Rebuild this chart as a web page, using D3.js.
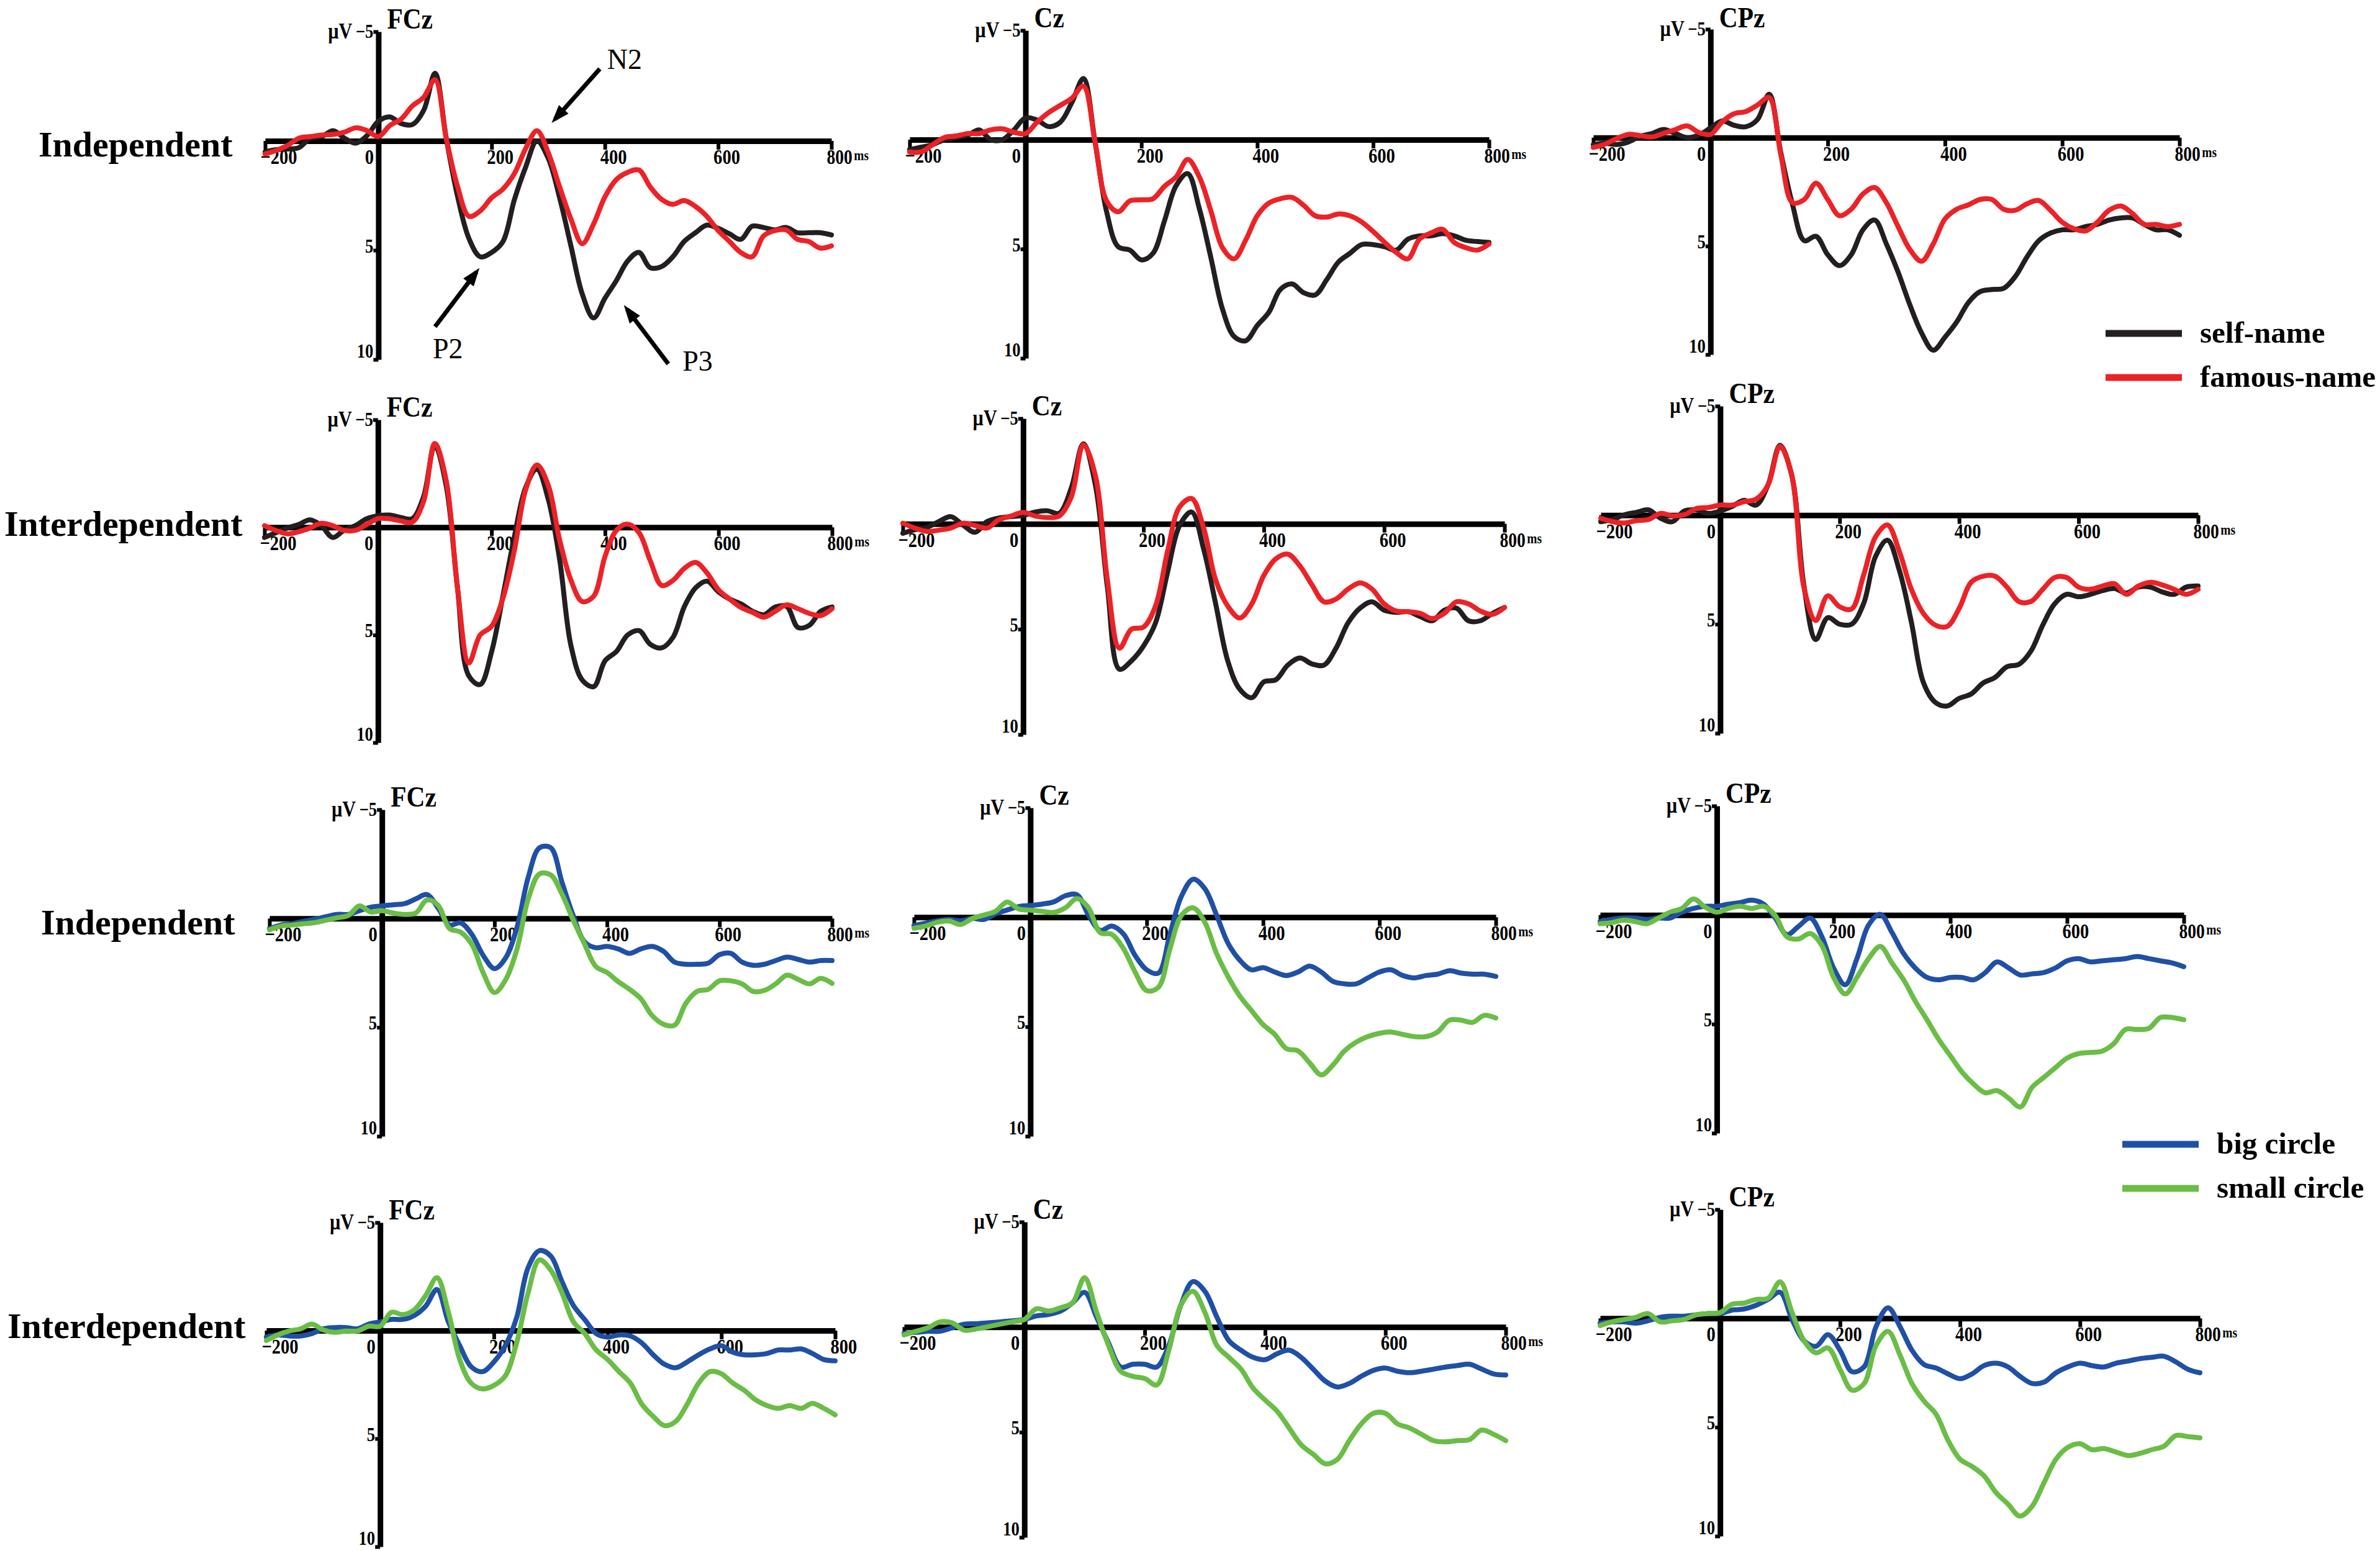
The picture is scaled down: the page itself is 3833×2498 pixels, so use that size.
<!DOCTYPE html>
<html>
<head>
<meta charset="utf-8">
<script src="https://cdn.jsdelivr.net/npm/d3@7"></script>
<style>
  body { margin: 0; background: #fff; }
  svg { display: block; }
</style>
</head>
<body>
<div class="chart"></div>
<script>
// sampling grid (ms)
const times = [-200, -180, -160, -140, -120, -100, -80, -60, -40, -20,
  0, 20, 40, 60, 80, 100, 120, 140, 160, 180,
  200, 220, 240, 260, 280, 300, 320, 340, 360, 380,
  400, 420, 440, 460, 480, 500, 520, 540, 560, 580,
  600, 620, 640, 660, 680, 700, 720, 740, 760, 780, 800];

const xTicks = [-200, 0, 200, 400, 600, 800];
const yTicks = [-5, 5, 10];
const electrodes = ["FCz", "Cz", "CPz"];
const rowLabels = ["Independent", "Interdependent", "Independent", "Interdependent"];
const nameLegend = ["self-name", "famous-name"];
const circleLegend = ["big circle", "small circle"];

// Independent, self-name vs famous-name (µV)
const indSelfFCz = [0.5, 0.4, 0.37, 0.3, -0.13, -0.2, -0.47, -0.13, 0.1, -0.25,
  -0.9, -1.1, -0.8, -0.75, -1.4, -3.1, -0.1, 2.56, 4.47, 5.3,
  5.1, 4.6, 2.7, 1.2, 0.0, 0.8, 2.6, 4.8, 7.0, 8.1,
  7.2, 6.4, 5.5, 5.1, 5.8, 5.75, 5.3, 4.6, 4.2, 3.85,
  4.0, 4.25, 4.5, 3.9, 3.96, 4.07, 3.96, 4.2, 4.2, 4.2, 4.3];
const indFamousFCz = [0.6, 0.43, 0.2, -0.13, -0.2, -0.27, -0.3, -0.4, -0.6, -0.47,
  -0.2, -0.7, -1.0, -1.6, -2.0, -2.8, -0.1, 2.1, 3.45, 3.2,
  2.6, 2.2, 1.5, 0.35, -0.47, 0.54, 2.1, 3.57, 4.7, 3.8,
  2.56, 1.77, 1.44, 1.33, 2.1, 2.67, 2.9, 2.73, 3.0, 3.45,
  4.1, 4.6, 5.1, 5.3, 4.35, 4.1, 4.07, 4.5, 4.6, 4.9, 4.8];
const indSelfCz = [0.45, 0.34, 0.22, 0, -0.1, -0.2, -0.45, 0, 0, -0.45,
  -1.0, -0.9, -0.6, -0.8, -1.7, -2.8, 0.1, 3.3, 4.9, 5.05,
  5.5, 5.2, 3.7, 2.1, 1.55, 3.15, 5.4, 7.75, 9.0, 9.2,
  8.5, 7.9, 6.85, 6.6, 7.0, 7.1, 6.4, 5.6, 5.2, 4.8,
  4.8, 4.9, 5.05, 4.55, 4.4, 4.4, 4.3, 4.4, 4.6, 4.66, 4.7];
const indFamousCz = [0.56, 0.56, 0.22, -0.1, -0.17, -0.28, -0.28, -0.45, -0.5, -0.34,
  -0.28, -0.8, -1.24, -1.57, -1.9, -2.45, 0.1, 2.8, 3.3, 2.8,
  2.75, 2.7, 2.13, 1.7, 0.9, 1.7, 3.26, 4.94, 5.45, 4.6,
  3.48, 2.9, 2.7, 2.64, 3.0, 3.48, 3.54, 3.4, 3.48, 3.76,
  4.2, 4.7, 5.16, 5.45, 4.55, 4.27, 4.1, 4.7, 4.94, 5.05, 4.78];
const indSelfCPz = [0.32, 0.26, 0.32, 0.2, -0.06, -0.19, -0.38, -0.19, 0, -0.12,
  -0.45, -0.77, -0.57, -0.5, -0.83, -2.0, 0.7, 3.1, 4.75, 4.55,
  5.4, 5.9, 5.4, 4.25, 3.8, 4.9, 6.2, 7.7, 9.0, 9.8,
  9.2, 8.5, 7.6, 7.1, 7.0, 6.95, 6.4, 5.5, 4.75, 4.4,
  4.25, 4.25, 4.1, 4.0, 3.8, 3.7, 3.7, 4.0, 4.25, 4.25, 4.5];
const indFamousCPz = [0.45, 0.3, 0.04, -0.15, -0.09, -0.03, -0.2, -0.37, -0.54, -0.24,
  -0.15, -0.73, -1.1, -1.2, -1.5, -1.85, 0.8, 3.0, 2.85, 2.1,
  2.85, 3.6, 3.3, 2.6, 2.3, 3.0, 4.1, 5.15, 5.7, 4.9,
  3.75, 3.3, 3.1, 2.85, 2.85, 3.3, 3.35, 3.05, 2.9, 3.35,
  3.9, 4.2, 4.3, 3.9, 3.35, 3.15, 3.5, 4.0, 4.0, 4.1, 4.0];

// Interdependent, self-name vs famous-name (µV)
const interSelfFCz = [0.47, 0.25, 0.03, -0.13, -0.35, -0.08, 0.47, 0.14, -0.08, -0.4,
  -0.54, -0.57, -0.46, -0.4, -1.4, -3.8, -1.95, 2.8, 6.9, 7.3,
  5.8, 3.2, 0.47, -1.84, -2.7, -1.3, 1.5, 5.5, 7.1, 7.4,
  6.2, 5.77, 5.0, 4.8, 5.44, 5.6, 5.1, 3.67, 2.8, 2.5,
  3.0, 3.34, 3.56, 3.9, 4.06, 3.7, 3.67, 4.65, 4.55, 3.9, 3.7];
const interFamousFCz = [-0.08, 0.14, 0.3, 0.2, 0.03, -0.19, -0.08, 0.14, 0.14, -0.13,
  -0.4, -0.4, -0.3, -0.24, -1.18, -3.9, -2.2, 2.8, 6.3, 5.0,
  4.6, 3.3, 1.1, -1.73, -2.9, -1.95, 0.58, 2.46, 3.45, 3.2,
  1.35, 0.14, -0.15, 0.25, 1.57, 2.7, 2.46, 1.9, 1.63, 2.13,
  2.9, 3.34, 3.73, 3.95, 4.17, 3.9, 3.6, 3.78, 4.0, 4.1, 3.78];
const interSelfCz = [0.45, 0.28, 0.17, -0.11, -0.34, 0.06, 0.4, -0.11, -0.28, -0.34,
  -0.4, -0.56, -0.62, -0.5, -1.7, -3.8, -1.85, 3.0, 6.9, 6.5,
  5.8, 4.7, 2.3, 0.08, -0.56, 1.2, 3.8, 6.5, 7.85, 8.25,
  7.5, 7.4, 6.7, 6.37, 6.65, 6.7, 5.9, 4.7, 4.0, 3.7,
  4.1, 4.2, 4.17, 4.4, 4.6, 4.1, 4.0, 4.6, 4.6, 4.25, 3.97];
const interFamousCz = [-0.03, 0.2, 0.36, 0.3, 0.2, -0.03, 0.08, 0.2, -0.2, -0.37,
  -0.54, -0.37, -0.3, -0.37, -1.27, -3.75, -2.3, 2.67, 5.9, 5.0,
  4.9, 3.9, 1.3, -0.8, -1.2, 0.2, 2.67, 3.9, 4.47, 3.8,
  2.45, 1.66, 1.44, 2.0, 2.9, 3.7, 3.57, 3.1, 2.8, 3.1,
  3.8, 4.14, 4.17, 4.25, 4.5, 4.25, 3.7, 3.8, 4.14, 4.3, 3.97];
const interSelfCPz = [0.3, 0.2, -0.02, -0.13, -0.24, 0.14, 0.3, -0.19, -0.24, -0.08,
  -0.19, -0.4, -0.68, -0.46, -1.38, -3.2, -1.8, 3.2, 5.7, 4.7,
  5.0, 5.0, 4.06, 1.9, 1.15, 2.54, 4.9, 7.66, 8.58, 8.75,
  8.4, 8.2, 7.7, 7.44, 6.95, 6.84, 6.24, 5.04, 4.06, 3.63,
  3.74, 3.63, 3.46, 3.36, 3.57, 3.3, 3.3, 3.52, 3.63, 3.3, 3.25];
const interFamousCPz = [0.14, 0.3, 0.36, 0.25, 0.2, -0.08, 0.03, -0.02, -0.3, -0.35,
  -0.46, -0.46, -0.62, -0.73, -1.38, -3.15, -1.8, 3.3, 4.83, 3.7,
  4.2, 4.3, 2.76, 1.0, 0.45, 1.67, 3.4, 4.5, 5.04, 5.1,
  4.28, 3.08, 2.8, 2.8, 3.3, 3.96, 3.96, 3.4, 2.86, 2.86,
  3.3, 3.4, 3.25, 3.14, 3.63, 3.25, 3.08, 3.2, 3.4, 3.63, 3.4];

// Independent, big circle vs small circle (µV)
const indBigFCz = [0.47, 0.3, 0.24, 0.13, 0.03, -0.08, -0.19, -0.19, -0.36, -0.52,
  -0.58, -0.63, -0.68, -0.9, -1.1, -0.47, 0.3, 0.2, 0.74, 1.7,
  2.3, 1.8, 0.4, -1.9, -3.25, -3.25, -1.66, -0.13, 1.07, 1.34,
  1.28, 1.4, 1.6, 1.4, 1.28, 1.5, 2.0, 2.1, 2.1, 2.05,
  1.66, 1.6, 2.0, 2.15, 2.1, 1.93, 1.77, 1.88, 2.0, 1.93, 1.93];
const indSmallFCz = [0.52, 0.35, 0.3, 0.24, 0.19, 0.08, -0.03, -0.14, -0.58, -0.3,
  -0.36, -0.25, -0.19, -0.25, -0.85, -0.6, 0.46, 0.63, 1.2, 2.5,
  3.4, 2.8, 1.4, -0.9, -2.05, -2.0, -1.12, 0.08, 1.17, 2.2,
  2.48, 2.9, 3.25, 3.68, 4.45, 4.85, 4.9, 3.9, 3.35, 3.25,
  2.86, 2.86, 3.0, 3.35, 3.3, 3.0, 2.6, 2.8, 3.0, 2.75, 2.98];
const indBigCz = [0.38, 0.27, 0.16, 0.1, 0.16, 0.05, 0.1, -0.16, -0.33, -0.49,
  -0.54, -0.6, -0.7, -0.98, -1.03, -0.1, 0.6, 0.4, 0.76, 1.74,
  2.4, 2.55, 0.76, -0.98, -1.74, -1.3, -0.1, 1.2, 1.96, 2.4,
  2.3, 2.5, 2.66, 2.5, 2.23, 2.5, 2.93, 3.04, 3.04, 2.77,
  2.5, 2.4, 2.66, 2.77, 2.66, 2.6, 2.44, 2.55, 2.6, 2.6, 2.7];
const indSmallCz = [0.5, 0.4, 0.23, 0.17, 0.33, 0.06, -0.1, -0.27, -0.7, -0.38,
  -0.33, -0.27, -0.22, -0.43, -0.85, -0.43, 0.7, 0.78, 1.43, 2.5,
  3.35, 3.2, 1.43, -0.1, -0.43, 0.24, 1.65, 2.72, 3.6, 4.26,
  4.9, 5.35, 6.0, 6.1, 6.65, 7.2, 6.75, 6.1, 5.7, 5.45,
  5.3, 5.24, 5.35, 5.45, 5.45, 5.24, 4.7, 4.7, 4.8, 4.48, 4.6];
const indBigCPz = [0.3, 0.2, 0.14, 0.14, 0.2, 0.14, 0.14, -0.13, -0.3, -0.4,
  -0.4, -0.5, -0.57, -0.68, -0.5, 0.14, 0.9, 0.52, 0.14, 1.0,
  2.43, 3.2, 2.0, 0.46, -0.03, 0.8, 1.77, 2.43, 2.86, 2.97,
  2.86, 2.86, 2.97, 2.64, 2.15, 2.43, 2.75, 2.7, 2.64, 2.43,
  2.1, 2.0, 2.15, 2.1, 2.05, 2.0, 1.9, 2.0, 2.1, 2.2, 2.37];
const indSmallCPz = [0.4, 0.35, 0.24, 0.3, 0.4, 0.14, -0.13, -0.3, -0.74, -0.36,
  -0.13, -0.3, -0.4, -0.3, -0.4, 0.02, 1.0, 1.1, 0.85, 1.4,
  2.86, 3.62, 2.86, 2.0, 1.44, 2.2, 2.97, 3.95, 4.8, 5.7,
  6.45, 7.2, 7.75, 8.15, 8.05, 8.4, 8.8, 7.9, 7.45, 7.0,
  6.56, 6.35, 6.3, 6.24, 5.9, 5.25, 5.25, 5.2, 4.7, 4.7, 4.8];

// Interdependent, big circle vs small circle (µV)
const interBigFCz = [0.3, 0.2, 0.25, 0.25, 0.14, -0.08, -0.14, -0.14, -0.08, -0.3,
  -0.4, -0.52, -0.52, -0.7, -1.13, -1.9, -0.4, 0.7, 1.67, 1.9,
  1.45, 0.7, -0.6, -2.9, -3.7, -3.45, -2.25, -1.15, -0.5, 0.14,
  0.3, 0.2, 0.25, 0.57, 1.12, 1.56, 1.72, 1.45, 1.12, 0.85,
  0.7, 1.0, 1.12, 1.12, 1.06, 0.9, 0.9, 0.85, 1.06, 1.34, 1.4];
const interSmallFCz = [0.46, 0.2, 0.02, -0.08, -0.3, -0.03, 0.08, 0.02, 0.02, -0.2,
  -0.2, -0.85, -0.74, -0.96, -1.62, -2.45, -0.85, 1.34, 2.43, 2.7,
  2.54, 2.1, 0.57, -1.73, -3.27, -2.8, -1.73, -0.4, 0.14, 0.9,
  1.34, 1.9, 2.43, 3.4, 3.97, 4.4, 4.2, 3.4, 2.43, 1.9,
  2.0, 2.43, 2.76, 3.2, 3.47, 3.6, 3.47, 3.6, 3.37, 3.6, 3.9];
const interBigCz = [0.3, 0.25, 0.2, 0.2, 0.03, -0.14, -0.16, -0.2, -0.25, -0.3,
  -0.36, -0.53, -0.6, -0.76, -1.15, -1.65, -0.47, 0.77, 1.9, 1.77,
  1.77, 1.9, 0.88, -1.04, -2.16, -1.7, -0.47, 0.65, 1.1, 1.44,
  1.55, 1.27, 1.1, 1.44, 2.0, 2.57, 2.85, 2.68, 2.34, 2.06,
  1.95, 2.1, 2.17, 2.1, 2.0, 1.9, 1.83, 1.77, 2.0, 2.23, 2.28];
const interSmallCz = [0.37, 0.2, 0.03, -0.25, -0.2, 0.15, 0.09, -0.02, -0.14, -0.25,
  -0.36, -0.87, -0.76, -0.92, -1.15, -2.35, -0.7, 0.88, 2.1, 2.34,
  2.45, 2.75, 1.1, -1.04, -1.7, -0.7, 0.88, 1.44, 2.0, 2.9,
  3.47, 4.0, 4.8, 5.6, 6.05, 6.5, 6.3, 5.4, 4.6, 4.1,
  4.1, 4.6, 4.8, 5.1, 5.4, 5.46, 5.4, 5.35, 4.9, 5.1, 5.4];
const interBigCPz = [0.22, 0.16, 0.16, 0.22, 0.11, -0.05, -0.1, -0.1, -0.16, -0.22,
  -0.22, -0.38, -0.43, -0.6, -0.87, -1.2, 0.05, 1.03, 1.28, 0.75,
  1.47, 2.45, 2.23, 0.38, -0.49, 0.38, 1.47, 2.12, 2.28, 2.55,
  2.77, 2.55, 2.17, 2.06, 2.23, 2.66, 2.99, 2.93, 2.5, 2.23,
  2.06, 2.17, 2.23, 2.06, 1.96, 1.85, 1.79, 1.74, 2.0, 2.34, 2.5];
const interSmallCPz = [0.33, 0.16, 0.05, -0.05, -0.22, 0.16, 0.11, 0.05, -0.16, -0.22,
  -0.27, -0.65, -0.7, -0.87, -0.92, -1.68, -0.27, 1.03, 1.58, 1.36,
  2.34, 3.3, 3.0, 1.25, 0.6, 1.69, 3.0, 3.8, 4.4, 5.6,
  6.47, 6.8, 7.23, 8.0, 8.53, 9.08, 8.64, 7.55, 6.47, 5.92,
  5.76, 6.03, 5.98, 6.14, 6.3, 6.2, 6.03, 5.87, 5.38, 5.43, 5.49];

// peak annotations on the first panel, in ms / µV
const peakNotes = [
  { label: "N2", from: [391, -3.3], to: [312, -1.0], at: [404, -3.3] },
  { label: "P2", from: [100, 8.5], to: [173, 6.0], at: [96, 9.95] },
  { label: "P3", from: [512, 10.2], to: [439, 7.7], at: [537, 10.5] }
];

const nameColors = ["#231f20", "#ec2227"];
const circleColors = ["#2050a6", "#6abd45"];
const serif = "'Liberation Serif', 'Times New Roman', serif";

// pixel frame of each panel: x at -200 ms, x at 800 ms, y at -5 µV, y at 10 µV
const frames = [
  [[427, 1339, 51, 579], [1465, 2398, 49, 577], [2566, 3510, 47, 571]],
  [[426, 1340, 676, 1196], [1454, 2423, 674, 1183], [2578, 3540, 654, 1181]],
  [[434, 1340, 1304, 1830], [1472, 2409, 1301, 1830], [2577, 3517, 1298, 1825]],
  [[429, 1345, 1969, 2491], [1456, 2425, 1968, 2476], [2577, 3543, 1948, 2474]]
];

const panels = [
  { row: 0, series: [indSelfFCz, indFamousFCz, indSelfCz, indFamousCz, indSelfCPz, indFamousCPz], colors: nameColors },
  { row: 1, series: [interSelfFCz, interFamousFCz, interSelfCz, interFamousCz, interSelfCPz, interFamousCPz], colors: nameColors },
  { row: 2, series: [indBigFCz, indSmallFCz, indBigCz, indSmallCz, indBigCPz, indSmallCPz], colors: circleColors },
  { row: 3, series: [interBigFCz, interSmallFCz, interBigCz, interSmallCz, interBigCPz, interSmallCPz], colors: circleColors }
];

// squeeze bold serif labels into the narrow look of the original
function condense(sel, k) {
  sel.each(function() {
    const w = this.getComputedTextLength();
    d3.select(this).attr("textLength", w * k).attr("lengthAdjust", "spacingAndGlyphs");
  });
}

const svg = d3
  .select(".chart")
  .append("svg")
  .attr("width", 3833)
  .attr("height", 2498)
  .style("color", "#000");

svg
  .append("defs")
  .append("marker")
  .attr("id", "arrow")
  .attr("viewBox", "0 0 14 10")
  .attr("refX", 10)
  .attr("refY", 5)
  .attr("markerWidth", 30)
  .attr("markerHeight", 21)
  .attr("markerUnits", "userSpaceOnUse")
  .attr("orient", "auto")
  .append("path")
  .attr("d", "M0,0L14,5L0,10z")
  .attr("fill", "#000");

panels.forEach(p => {
  electrodes.forEach((name, c) => {
    const f = frames[p.row][c];
    const x = d3.scaleLinear().domain([-200, 800]).range([f[0], f[1]]);
    const y = d3.scaleLinear().domain([-5, 10]).range([f[2], f[3]]);
    const g = svg.append("g");

    // time axis through 0 µV
    const xAxis = g
      .append("g")
      .attr("transform", "translate(0," + y(0) + ")")
      .call(d3.axisBottom(x).tickValues(xTicks).tickSize(14).tickSizeOuter(0).tickPadding(0));
    xAxis.attr("font-size", 34).attr("font-family", serif).attr("font-weight", "bold");
    xAxis.select(".domain").attr("stroke-width", 9);
    xAxis.selectAll(".tick line").attr("stroke-width", 6);
    xAxis
      .selectAll(".tick text")
      .attr("text-anchor", d => (d === 0 ? "end" : "start"))
      .attr("x", -8)
      .attr("dy", "0.68em");
    if (!(p.row === 3 && c === 0)) {
      xAxis
        .selectAll(".tick text")
        .filter(d => d === 800)
        .append("tspan")
        .attr("font-size", 24)
        .attr("dx", 3)
        .attr("dy", -6)
        .text("ms");
    }
    condense(xAxis.selectAll(".tick text"), 0.84);

    // voltage axis, negative up
    const yAxis = g
      .append("g")
      .attr("transform", "translate(" + x(0) + ",0)")
      .call(d3.axisLeft(y).tickValues(yTicks).tickSize(8).tickSizeOuter(0).tickPadding(0));
    yAxis.attr("font-size", 31).attr("font-family", serif).attr("font-weight", "bold");
    yAxis.select(".domain").attr("stroke-width", 9);
    yAxis.selectAll(".tick line").attr("stroke-width", 6);
    yAxis.selectAll(".tick text").attr("dy", d => (d === -5 ? "0.3em" : d === 10 ? "-0.1em" : "0.1em"));
    condense(yAxis.selectAll(".tick text"), 0.86);

    const uv = g
      .append("text")
      .attr("x", x(0) - 42)
      .attr("y", y(-5) + 11)
      .attr("text-anchor", "end")
      .attr("font-family", serif)
      .attr("font-weight", "bold")
      .attr("font-size", 36)
      .text("µV");
    condense(uv, 0.84);

    const title = g
      .append("text")
      .attr("x", x(0) + 14)
      .attr("y", Math.max(y(-5) - 5, 44))
      .attr("font-family", serif)
      .attr("font-weight", "bold")
      .attr("font-size", 46)
      .text(name);
    condense(title, 0.9);

    const line = d3
      .line()
      .x((d, i) => x(times[i]))
      .y(d => y(d))
      .curve(d3.curveCatmullRom);

    [p.series[c * 2], p.series[c * 2 + 1]].forEach((s, k) => {
      g.append("path")
        .attr("d", line(s))
        .attr("fill", "none")
        .attr("stroke", p.colors[k])
        .attr("stroke-width", 8)
        .attr("stroke-linejoin", "round")
        .attr("stroke-linecap", "round");
    });

    if (p.row === 0 && c === 0) {
      peakNotes.forEach(n => {
        g.append("line")
          .attr("x1", x(n.from[0]))
          .attr("y1", y(n.from[1]))
          .attr("x2", x(n.to[0]))
          .attr("y2", y(n.to[1]))
          .attr("stroke", "#000")
          .attr("stroke-width", 7)
          .attr("marker-end", "url(#arrow)");
        g.append("text")
          .attr("x", x(n.at[0]))
          .attr("y", y(n.at[1]))
          .attr("font-family", serif)
          .attr("font-size", 46)
          .text(n.label);
      });
    }
  });
});

// condition labels on the left
const rowLabelPos = [[62, 252], [7, 863], [66, 1505], [12, 2155]];
svg
  .selectAll(".row-label")
  .data(rowLabels)
  .join("text")
  .attr("class", "row-label")
  .attr("x", (d, i) => rowLabelPos[i][0])
  .attr("y", (d, i) => rowLabelPos[i][1])
  .attr("font-family", serif)
  .attr("font-weight", "bold")
  .attr("font-size", 58)
  .text(d => d);

// legends
function legend(labels, colors, x0, ys) {
  labels.forEach((label, i) => {
    svg.append("line")
      .attr("x1", x0)
      .attr("x2", x0 + 123)
      .attr("y1", ys[i])
      .attr("y2", ys[i])
      .attr("stroke", colors[i])
      .attr("stroke-width", 11);
    svg.append("text")
      .attr("x", x0 + 152)
      .attr("y", ys[i] + 15)
      .attr("font-family", serif)
      .attr("font-weight", "bold")
      .attr("font-size", 49)
      .text(label);
  });
}
legend(nameLegend, nameColors, 3391, [537, 608]);
legend(circleLegend, circleColors, 3418, [1843, 1914]);
</script>
</body>
</html>
